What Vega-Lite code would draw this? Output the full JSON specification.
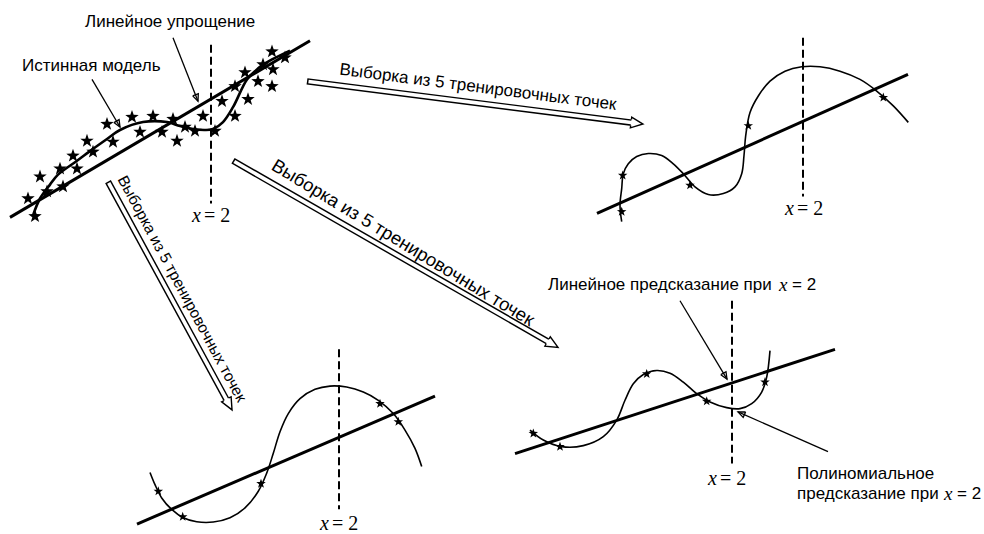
{
  "$schema": "https://vega.github.io/schema/vega-lite/v6.json",
  "width": 984,
  "height": 534,
  "autosize": {"type": "fit", "contains": "padding"},
  "padding": 0,
  "background": "white",
  "config": {"view": {"stroke": null}},
  "datasets": {
    "straight": [
      {"g": "a", "x": 10, "y": 219}, {"g": "a", "x": 310, "y": 41},
      {"g": "b", "x": 597, "y": 215}, {"g": "b", "x": 908, "y": 75},
      {"g": "c", "x": 137, "y": 528}, {"g": "c", "x": 435, "y": 399},
      {"g": "d", "x": 515, "y": 457}, {"g": "d", "x": 835, "y": 352}
    ],
    "curves": [
      {"g": "p1", "o": 1, "x": 33, "y": 217}, {"g": "p1", "o": 2, "x": 40, "y": 200}, {"g": "p1", "o": 3, "x": 50, "y": 186}, {"g": "p1", "o": 4, "x": 58, "y": 176}, {"g": "p1", "o": 5, "x": 77, "y": 162}, {"g": "p1", "o": 6, "x": 93, "y": 150}, {"g": "p1", "o": 7, "x": 107, "y": 140}, {"g": "p1", "o": 8, "x": 120, "y": 131}, {"g": "p1", "o": 9, "x": 143, "y": 123}, {"g": "p1", "o": 10, "x": 167, "y": 123}, {"g": "p1", "o": 11, "x": 180, "y": 127}, {"g": "p1", "o": 12, "x": 193, "y": 130}, {"g": "p1", "o": 13, "x": 205, "y": 131}, {"g": "p1", "o": 14, "x": 213, "y": 130}, {"g": "p1", "o": 15, "x": 223, "y": 123}, {"g": "p1", "o": 16, "x": 233, "y": 108}, {"g": "p1", "o": 17, "x": 247, "y": 80}, {"g": "p1", "o": 18, "x": 257, "y": 70}, {"g": "p1", "o": 19, "x": 263, "y": 65}, {"g": "p1", "o": 20, "x": 290, "y": 51},
      {"g": "p2", "o": 1, "x": 621.7, "y": 223.3}, {"g": "p2", "o": 2, "x": 620, "y": 206.7}, {"g": "p2", "o": 3, "x": 621.7, "y": 190}, {"g": "p2", "o": 4, "x": 623.3, "y": 175}, {"g": "p2", "o": 5, "x": 628.3, "y": 165}, {"g": "p2", "o": 6, "x": 636.7, "y": 157.7}, {"g": "p2", "o": 7, "x": 648.3, "y": 154.7}, {"g": "p2", "o": 8, "x": 661.7, "y": 156.7}, {"g": "p2", "o": 9, "x": 673.3, "y": 165}, {"g": "p2", "o": 10, "x": 683.3, "y": 175}, {"g": "p2", "o": 11, "x": 695, "y": 188.3}, {"g": "p2", "o": 12, "x": 708.3, "y": 196}, {"g": "p2", "o": 13, "x": 723.3, "y": 195}, {"g": "p2", "o": 14, "x": 735, "y": 188.3}, {"g": "p2", "o": 15, "x": 741.7, "y": 175}, {"g": "p2", "o": 16, "x": 744, "y": 156.7}, {"g": "p2", "o": 17, "x": 745.7, "y": 136.7}, {"g": "p2", "o": 18, "x": 750, "y": 113.3}, {"g": "p2", "o": 19, "x": 758.3, "y": 96.7}, {"g": "p2", "o": 20, "x": 770, "y": 81.7}, {"g": "p2", "o": 21, "x": 785, "y": 71.7}, {"g": "p2", "o": 22, "x": 801.7, "y": 67.3}, {"g": "p2", "o": 23, "x": 820, "y": 67.3}, {"g": "p2", "o": 24, "x": 840, "y": 71.7}, {"g": "p2", "o": 25, "x": 860, "y": 80}, {"g": "p2", "o": 26, "x": 876.7, "y": 91.7}, {"g": "p2", "o": 27, "x": 893.3, "y": 106.7}, {"g": "p2", "o": 28, "x": 908.3, "y": 123.3},
      {"g": "p3", "o": 1, "x": 150, "y": 476}, {"g": "p3", "o": 2, "x": 155, "y": 488.3}, {"g": "p3", "o": 3, "x": 161.7, "y": 501.7}, {"g": "p3", "o": 4, "x": 171.7, "y": 513.3}, {"g": "p3", "o": 5, "x": 183.3, "y": 521.7}, {"g": "p3", "o": 6, "x": 196.7, "y": 525.7}, {"g": "p3", "o": 7, "x": 213.3, "y": 526}, {"g": "p3", "o": 8, "x": 230, "y": 521.7}, {"g": "p3", "o": 9, "x": 245, "y": 511.7}, {"g": "p3", "o": 10, "x": 258.3, "y": 495}, {"g": "p3", "o": 11, "x": 266.7, "y": 476.7}, {"g": "p3", "o": 12, "x": 273.3, "y": 456.7}, {"g": "p3", "o": 13, "x": 280, "y": 435}, {"g": "p3", "o": 14, "x": 288.3, "y": 416.7}, {"g": "p3", "o": 15, "x": 300, "y": 401.7}, {"g": "p3", "o": 16, "x": 315, "y": 392.3}, {"g": "p3", "o": 17, "x": 330, "y": 389}, {"g": "p3", "o": 18, "x": 346.7, "y": 390}, {"g": "p3", "o": 19, "x": 363.3, "y": 395}, {"g": "p3", "o": 20, "x": 378.3, "y": 403.3}, {"g": "p3", "o": 21, "x": 393.3, "y": 416.7}, {"g": "p3", "o": 22, "x": 405, "y": 433.3}, {"g": "p3", "o": 23, "x": 415, "y": 451.7}, {"g": "p3", "o": 24, "x": 421.7, "y": 470},
      {"g": "p4", "o": 1, "x": 530, "y": 433.3}, {"g": "p4", "o": 2, "x": 543.3, "y": 443.3}, {"g": "p4", "o": 3, "x": 561.7, "y": 450}, {"g": "p4", "o": 4, "x": 583.3, "y": 449}, {"g": "p4", "o": 5, "x": 603.3, "y": 440}, {"g": "p4", "o": 6, "x": 616.7, "y": 423.3}, {"g": "p4", "o": 7, "x": 625, "y": 403.3}, {"g": "p4", "o": 8, "x": 633.3, "y": 386.7}, {"g": "p4", "o": 9, "x": 643.3, "y": 377.3}, {"g": "p4", "o": 10, "x": 656.7, "y": 373.3}, {"g": "p4", "o": 11, "x": 670, "y": 376}, {"g": "p4", "o": 12, "x": 683.3, "y": 385}, {"g": "p4", "o": 13, "x": 696.7, "y": 396.7}, {"g": "p4", "o": 14, "x": 710, "y": 405}, {"g": "p4", "o": 15, "x": 726.7, "y": 410.7}, {"g": "p4", "o": 16, "x": 740, "y": 411.7}, {"g": "p4", "o": 17, "x": 751.7, "y": 406.7}, {"g": "p4", "o": 18, "x": 761.7, "y": 395}, {"g": "p4", "o": 19, "x": 766.7, "y": 380}, {"g": "p4", "o": 20, "x": 770, "y": 353.3}
    ],
    "stars": [
      {"p": "big", "x": 272, "y": 52}, {"p": "big", "x": 263, "y": 65}, {"p": "big", "x": 273, "y": 70}, {"p": "big", "x": 285, "y": 58}, {"p": "big", "x": 245, "y": 73}, {"p": "big", "x": 258, "y": 82}, {"p": "big", "x": 272, "y": 87}, {"p": "big", "x": 235, "y": 87}, {"p": "big", "x": 248, "y": 100}, {"p": "big", "x": 222, "y": 102}, {"p": "big", "x": 235, "y": 117}, {"p": "big", "x": 203, "y": 117}, {"p": "big", "x": 215, "y": 132}, {"p": "big", "x": 195, "y": 132}, {"p": "big", "x": 185, "y": 128}, {"p": "big", "x": 173, "y": 120}, {"p": "big", "x": 177, "y": 142}, {"p": "big", "x": 162, "y": 133}, {"p": "big", "x": 153, "y": 117}, {"p": "big", "x": 132, "y": 118}, {"p": "big", "x": 140, "y": 133}, {"p": "big", "x": 107, "y": 125}, {"p": "big", "x": 113, "y": 143}, {"p": "big", "x": 87, "y": 142}, {"p": "big", "x": 93, "y": 153}, {"p": "big", "x": 73, "y": 157}, {"p": "big", "x": 77, "y": 170}, {"p": "big", "x": 60, "y": 170}, {"p": "big", "x": 40, "y": 178}, {"p": "big", "x": 63, "y": 188}, {"p": "big", "x": 47, "y": 193}, {"p": "big", "x": 28, "y": 200}, {"p": "big", "x": 35, "y": 218},
      {"p": "small", "x": 621.7, "y": 213.3}, {"p": "small", "x": 622.7, "y": 176.7}, {"p": "small", "x": 690, "y": 186.7}, {"p": "small", "x": 748.3, "y": 126.7}, {"p": "small", "x": 883.3, "y": 98.3},
      {"p": "small", "x": 158.3, "y": 495}, {"p": "small", "x": 182.7, "y": 520.7}, {"p": "small", "x": 261, "y": 487.3}, {"p": "small", "x": 380, "y": 406.7}, {"p": "small", "x": 398.3, "y": 425},
      {"p": "small", "x": 533.3, "y": 436.7}, {"p": "small", "x": 560, "y": 450}, {"p": "small", "x": 646.7, "y": 376.7}, {"p": "small", "x": 706.7, "y": 404.3}, {"p": "small", "x": 765, "y": 385}
    ],
    "dashes": [
      {"x": 211, "y": 45, "y2": 205}, {"x": 803, "y": 38, "y2": 198}, {"x": 339, "y": 352, "y2": 513}, {"x": 732, "y": 303, "y2": 467}
    ],
    "arrowsOuter": [
      {"x": 307, "y": 82, "x2": 632, "y2": 123.6},
      {"x": 108, "y": 183, "x2": 226.8, "y2": 403.3},
      {"x": 233, "y": 162, "x2": 548.4, "y2": 344.5}
    ],
    "arrowsInner": [
      {"x": 308.5, "y": 82.2, "x2": 633, "y2": 123.7},
      {"x": 108.7, "y": 184.3, "x2": 227.2, "y2": 404},
      {"x": 234.3, "y": 162.75, "x2": 549.2, "y2": 345}
    ],
    "heads": [
      {"a": "A1", "x": 637, "y": 124.2}, {"a": "A2", "x": 229.2, "y": 407.7}, {"a": "A3", "x": 552.8, "y": 347}
    ],
    "leaders": [
      {"g": "L1", "o": 1, "x": 92, "y": 80}, {"g": "L1", "o": 2, "x": 120, "y": 128},
      {"g": "L1h", "o": 1, "x": 113.9, "y": 123.5}, {"g": "L1h", "o": 2, "x": 120, "y": 128}, {"g": "L1h", "o": 3, "x": 119.1, "y": 120.5}, {"g": "L1h", "o": 4, "x": 113.9, "y": 123.5},
      {"g": "L2", "o": 1, "x": 173, "y": 38}, {"g": "L2", "o": 2, "x": 198, "y": 102},
      {"g": "L2h", "o": 1, "x": 192.7, "y": 96.6}, {"g": "L2h", "o": 2, "x": 198, "y": 102}, {"g": "L2h", "o": 3, "x": 198.3, "y": 94.4}, {"g": "L2h", "o": 4, "x": 192.7, "y": 96.6},
      {"g": "L3", "o": 1, "x": 680, "y": 303}, {"g": "L3", "o": 2, "x": 727, "y": 382},
      {"g": "L3h", "o": 1, "x": 720.8, "y": 377.5}, {"g": "L3h", "o": 2, "x": 727, "y": 382}, {"g": "L3h", "o": 3, "x": 726, "y": 374.5}, {"g": "L3h", "o": 4, "x": 720.8, "y": 377.5},
      {"g": "L4", "o": 1, "x": 828, "y": 455}, {"g": "L4", "o": 2, "x": 738, "y": 415},
      {"g": "L4h", "o": 1, "x": 745.6, "y": 415.1}, {"g": "L4h", "o": 2, "x": 738, "y": 415}, {"g": "L4h", "o": 3, "x": 743.2, "y": 420.5}, {"g": "L4h", "o": 4, "x": 745.6, "y": 415.1}
    ],
    "texts": [
      {"k": "big", "t": "Истинная модель", "x": 22, "y": 67},
      {"k": "big", "t": "Линейное упрощение", "x": 85, "y": 22},
      {"k": "mid", "t": "Линейное предсказание при", "x": 548, "y": 287},
      {"k": "midx", "t": "x", "x": 779, "y": 287},
      {"k": "mid", "t": "= 2", "x": 792, "y": 287},
      {"k": "mid", "t": "Полиномиальное", "x": 797, "y": 478},
      {"k": "mid", "t": "предсказание при", "x": 797, "y": 498},
      {"k": "midx", "t": "x", "x": 944, "y": 498},
      {"k": "mid", "t": "= 2", "x": 957, "y": 498},
      {"k": "serx", "t": "x", "x": 192, "y": 218},
      {"k": "ser", "t": "= 2", "x": 204, "y": 218},
      {"k": "serx", "t": "x", "x": 785, "y": 211},
      {"k": "ser", "t": "= 2", "x": 797, "y": 211},
      {"k": "serx", "t": "x", "x": 320, "y": 528},
      {"k": "ser", "t": "= 2", "x": 332, "y": 528},
      {"k": "serx", "t": "x", "x": 708, "y": 483},
      {"k": "ser", "t": "= 2", "x": 720, "y": 483}
    ],
    "rotated": [
      {"a": "A1", "t": "Выборка из 5 тренировочных точек", "x": 478, "y": 88},
      {"a": "A2", "t": "Выборка из 5 тренировочных точек", "x": 182, "y": 291},
      {"a": "A3", "t": "Выборка из 5 тренировочных точек", "x": 403, "y": 244.5}
    ]
  },
  "encoding": {
    "x": {"field": "x", "type": "quantitative", "scale": {"domain": [0, 984], "nice": false, "zero": false}, "axis": null},
    "y": {"field": "y", "type": "quantitative", "scale": {"domain": [0, 534], "nice": false, "zero": false, "reverse": true}, "axis": null}
  },
  "layer": [
    {
      "data": {"name": "arrowsOuter"},
      "mark": {"type": "rule", "color": "black", "strokeWidth": 6.5, "strokeCap": "butt"},
      "encoding": {"x2": {"field": "x2"}, "y2": {"field": "y2"}}
    },
    {
      "data": {"name": "arrowsInner"},
      "mark": {"type": "rule", "color": "white", "strokeWidth": 3.6, "strokeCap": "butt"},
      "encoding": {"x2": {"field": "x2"}, "y2": {"field": "y2"}}
    },
    {
      "data": {"name": "heads"},
      "transform": [{"filter": "datum.a == 'A1'"}],
      "mark": {"type": "point", "shape": "M-1,-0.5L-1,-0.9L1,0L-1,0.9L-1,0.5", "size": 144, "filled": true, "fill": "white", "stroke": "black", "strokeWidth": 1.4, "opacity": 1, "angle": 7.3}
    },
    {
      "data": {"name": "heads"},
      "transform": [{"filter": "datum.a == 'A2'"}],
      "mark": {"type": "point", "shape": "M-1,-0.5L-1,-0.9L1,0L-1,0.9L-1,0.5", "size": 144, "filled": true, "fill": "white", "stroke": "black", "strokeWidth": 1.4, "opacity": 1, "angle": 61.7}
    },
    {
      "data": {"name": "heads"},
      "transform": [{"filter": "datum.a == 'A3'"}],
      "mark": {"type": "point", "shape": "M-1,-0.5L-1,-0.9L1,0L-1,0.9L-1,0.5", "size": 144, "filled": true, "fill": "white", "stroke": "black", "strokeWidth": 1.4, "opacity": 1, "angle": 30}
    },
    {
      "data": {"name": "straight"},
      "mark": {"type": "line", "color": "black", "strokeWidth": 3},
      "encoding": {"detail": {"field": "g"}}
    },
    {
      "data": {"name": "curves"},
      "transform": [{"filter": "datum.g == 'p1'"}],
      "mark": {"type": "line", "color": "black", "strokeWidth": 2.6, "interpolate": "catmull-rom"},
      "encoding": {"detail": {"field": "g"}, "order": {"field": "o", "type": "quantitative"}}
    },
    {
      "data": {"name": "curves"},
      "transform": [{"filter": "datum.g != 'p1'"}],
      "mark": {"type": "line", "color": "black", "strokeWidth": 1.6, "interpolate": "catmull-rom"},
      "encoding": {"detail": {"field": "g"}, "order": {"field": "o", "type": "quantitative"}}
    },
    {
      "data": {"name": "dashes"},
      "mark": {"type": "rule", "color": "black", "strokeWidth": 2, "strokeDash": [8, 4]},
      "encoding": {"y2": {"field": "y2"}}
    },
    {
      "data": {"name": "stars"},
      "transform": [{"filter": "datum.p == 'big'"}],
      "mark": {"type": "point", "shape": "M0,-1L0.235,-0.324L0.951,-0.309L0.38,0.124L0.588,0.809L0,0.4L-0.588,0.809L-0.38,0.124L-0.951,-0.309L-0.235,-0.324Z", "size": 200, "filled": true, "color": "black", "opacity": 1}
    },
    {
      "data": {"name": "stars"},
      "transform": [{"filter": "datum.p == 'small'"}],
      "mark": {"type": "point", "shape": "M0,-1L0.235,-0.324L0.951,-0.309L0.38,0.124L0.588,0.809L0,0.4L-0.588,0.809L-0.38,0.124L-0.951,-0.309L-0.235,-0.324Z", "size": 100, "filled": true, "color": "black", "opacity": 1}
    },
    {
      "data": {"name": "leaders"},
      "mark": {"type": "line", "color": "black", "strokeWidth": 1.3},
      "encoding": {"detail": {"field": "g"}, "order": {"field": "o", "type": "quantitative"}}
    },
    {
      "data": {"name": "texts"},
      "transform": [{"filter": "datum.k == 'big'"}],
      "mark": {"type": "text", "font": "Liberation Sans", "fontSize": 17, "align": "left", "baseline": "middle", "color": "black"},
      "encoding": {"text": {"field": "t"}}
    },
    {
      "data": {"name": "texts"},
      "transform": [{"filter": "datum.k == 'mid'"}],
      "mark": {"type": "text", "font": "Liberation Sans", "fontSize": 17, "align": "left", "baseline": "middle", "color": "black"},
      "encoding": {"text": {"field": "t"}}
    },
    {
      "data": {"name": "texts"},
      "transform": [{"filter": "datum.k == 'midx'"}],
      "mark": {"type": "text", "font": "Liberation Serif", "fontStyle": "italic", "fontSize": 19, "align": "left", "baseline": "middle", "color": "black"},
      "encoding": {"text": {"field": "t"}}
    },
    {
      "data": {"name": "texts"},
      "transform": [{"filter": "datum.k == 'serx'"}],
      "mark": {"type": "text", "font": "Liberation Serif", "fontStyle": "italic", "fontSize": 20, "align": "left", "baseline": "middle", "color": "black"},
      "encoding": {"text": {"field": "t"}}
    },
    {
      "data": {"name": "texts"},
      "transform": [{"filter": "datum.k == 'ser'"}],
      "mark": {"type": "text", "font": "Liberation Serif", "fontSize": 20, "align": "left", "baseline": "middle", "color": "black"},
      "encoding": {"text": {"field": "t"}}
    },
    {
      "data": {"name": "rotated"},
      "transform": [{"filter": "datum.a == 'A1'"}],
      "mark": {"type": "text", "font": "Liberation Sans", "fontSize": 17, "align": "center", "baseline": "middle", "angle": 7.3, "color": "black"},
      "encoding": {"text": {"field": "t"}}
    },
    {
      "data": {"name": "rotated"},
      "transform": [{"filter": "datum.a == 'A2'"}],
      "mark": {"type": "text", "font": "Liberation Sans", "fontSize": 15.5, "align": "center", "baseline": "middle", "angle": 61.7, "color": "black"},
      "encoding": {"text": {"field": "t"}}
    },
    {
      "data": {"name": "rotated"},
      "transform": [{"filter": "datum.a == 'A3'"}],
      "mark": {"type": "text", "font": "Liberation Sans", "fontSize": 18.5, "align": "center", "baseline": "middle", "angle": 31.3, "color": "black"},
      "encoding": {"text": {"field": "t"}}
    }
  ]
}
